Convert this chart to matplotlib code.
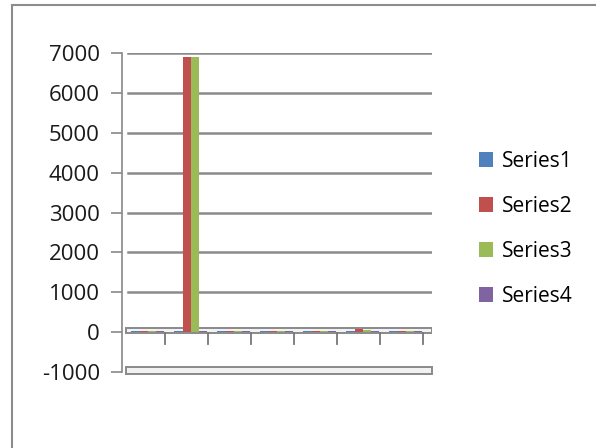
import numpy as np
import matplotlib
matplotlib.use('Agg')
import matplotlib.pyplot as plt
from matplotlib.patches import Rectangle, Patch

# data
categories = [1, 2, 3, 4, 5, 6, 7]
series_names = ['Series1', 'Series2', 'Series3', 'Series4']
series1 = [25, 20, 25, 25, 25, 20, 25]
series2 = [30, 6900, 30, 30, 35, 90, 30]
series3 = [25, 6900, 25, 25, 30, 60, 25]
series4 = [20, 20, 20, 20, 20, 20, 20]
colors = ['#4F81BD', '#C0504D', '#9BBB59', '#8064A2']
yticks = [-1000, 0, 1000, 2000, 3000, 4000, 5000, 6000, 7000]

plt.rcParams['font.family'] = ['Open Sans', 'DejaVu Sans']

fig = plt.figure(figsize=(5.96, 4.48), dpi=100)
W, H = 596, 448
ax = fig.add_axes([122 / W, 1 - 372 / H, (432 - 122) / W, (372 - 53) / H])

x = np.arange(len(categories))
bw = 0.19
offs = (np.arange(4) - 1.5) * bw + 0.6
for i, vals in enumerate([series1, series2, series3, series4]):
    ax.bar(x + offs[i], vals, width=bw, color=colors[i], edgecolor='none', zorder=3)

ax.set_ylim(-1000, 7000)
ax.set_xlim(0, 7.21)
ax.set_yticks(yticks)
ax.set_yticklabels([str(v) for v in yticks], fontsize=16, color='#1a1a1a')
ax.tick_params(axis='y', length=8, width=1.2, color='#888888', pad=8)

# gridlines (skip the floor)
for v in yticks[2:]:
    ax.axhline(v, xmin=0.02, color='#8a8a8a', lw=1.8, zorder=1)

# base plane at 0 and floor at -1000
ax.add_patch(Rectangle((0.1, -20), 7.1, 130, facecolor='#f2f2f2', edgecolor='#8a8a8a',
                       lw=1.4, zorder=2))
ax.add_patch(Rectangle((0.1, -1050), 7.1, 170, facecolor='#f2f2f2', edgecolor='#8a8a8a',
                       lw=1.4, zorder=2, clip_on=False))

# category ticks below the zero line
for c in range(1, 8):
    ax.plot([c, c], [-20, -300], color='#777777', lw=1.3, zorder=2)

ax.set_xticks([])
for s in ['top', 'right', 'bottom']:
    ax.spines[s].set_visible(False)
ax.spines['left'].set_color('#888888')
ax.spines['left'].set_linewidth(1.2)

handles = [Patch(facecolor=c, edgecolor='none') for c in colors]
fig.legend(handles, series_names, loc='upper left', bbox_to_anchor=(460 / W, 1 - 132 / H),
           frameon=False, fontsize=15, handlelength=0.7, handleheight=0.7,
           handletextpad=0.4, labelspacing=1.15)

# outer chart border
fig.patches.append(Rectangle((12 / W, -0.02), 1.0, 1 - 5 / H + 0.02, transform=fig.transFigure,
                             fill=False, edgecolor='#8c8c8c', lw=1.5))

fig.savefig('out.png', dpi=100)
